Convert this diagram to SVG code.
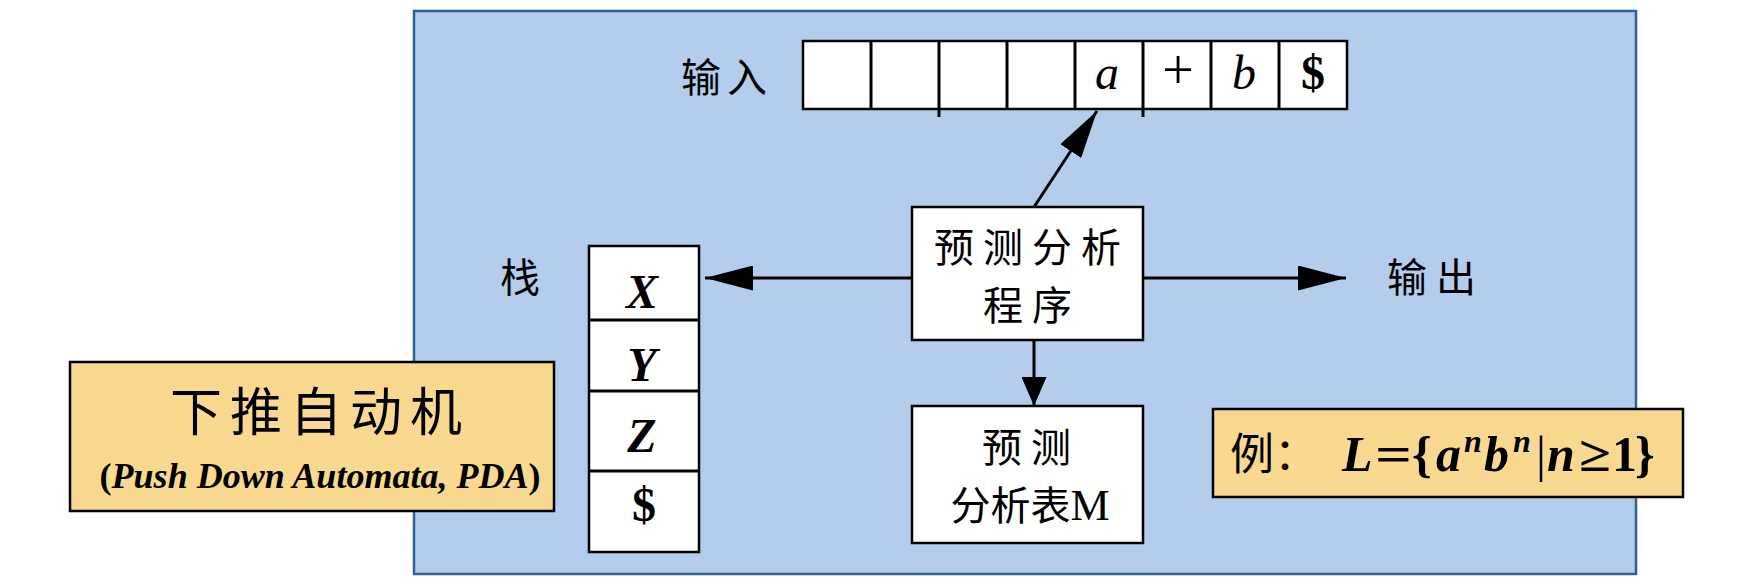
<svg xmlns="http://www.w3.org/2000/svg" width="1748" height="586" viewBox="0 0 1748 586">
<style>
.cjk{font-family:"Noto Sans CJK SC","Noto Sans CJK JP",sans-serif;fill:#000}
.ser{font-family:"Liberation Serif","Times New Roman",serif;fill:#000}
.box{fill:#fff;stroke:#000;stroke-width:2.5}
.note{fill:#f8d98f;stroke:#000;stroke-width:2.5}
.ln{stroke:#000;stroke-width:3;fill:none}
</style>
<defs>
<marker id="ahL" markerUnits="userSpaceOnUse" markerWidth="48" markerHeight="25" refX="48" refY="12.5" orient="auto">
<path d="M0,0 L48,12.5 L0,25 z" fill="#000"/>
</marker>
<marker id="ahS" markerUnits="userSpaceOnUse" markerWidth="29" markerHeight="25" refX="29" refY="12.5" orient="auto">
<path d="M0,0 L29,12.5 L0,25 z" fill="#000"/>
</marker>
</defs>
<rect width="1748" height="586" fill="#fff"/>
<g id="panel">
<rect x="414" y="11" width="1222" height="563" fill="#b4cdec" stroke="#2c6391" stroke-width="2.5"/>
</g>
<g id="input-label">
<text class="cjk" x="727" y="92" font-size="40" text-anchor="middle" letter-spacing="6">输入</text>
</g>
<g id="input-tape">
<rect class="box" x="803" y="41" width="544" height="68"/>
<g class="ln">
<line x1="871" y1="41" x2="871" y2="109"/>
<line x1="939" y1="41" x2="939" y2="117"/>
<line x1="1007" y1="41" x2="1007" y2="109"/>
<line x1="1075" y1="41" x2="1075" y2="109"/>
<line x1="1143" y1="41" x2="1143" y2="117"/>
<line x1="1211" y1="41" x2="1211" y2="109"/>
<line x1="1279" y1="41" x2="1279" y2="109"/>
</g>
<text class="ser" x="1107" y="89" font-size="48" font-style="italic" text-anchor="middle">a</text>
<text class="ser" x="1178" y="89" font-size="56" text-anchor="middle">+</text>
<text class="ser" x="1244" y="89" font-size="48" font-style="italic" text-anchor="middle">b</text>
<text class="ser" x="1313" y="89" font-size="48" font-weight="bold" text-anchor="middle">$</text>
</g>
<g id="stack-label">
<text class="cjk" x="520" y="292" font-size="40" text-anchor="middle">栈</text>
</g>
<g id="stack">
<rect class="box" x="589" y="246" width="110" height="306"/>
<g class="ln">
<line x1="589" y1="320" x2="699" y2="320"/>
<line x1="589" y1="391" x2="699" y2="391"/>
<line x1="589" y1="471" x2="699" y2="471"/>
</g>
<g class="ser" font-size="48" font-weight="bold" text-anchor="middle">
<text x="642" y="308" font-style="italic">X</text>
<text x="642" y="381" font-style="italic">Y</text>
<text x="642" y="452" font-style="italic">Z</text>
<text x="644" y="521">$</text>
</g>
</g>
<g id="program">
<rect class="box" x="912" y="207" width="231" height="133"/>
<text class="cjk" x="1032" y="262" font-size="40" text-anchor="middle" letter-spacing="9">预测分析</text>
<text class="cjk" x="1032" y="320" font-size="40" text-anchor="middle" letter-spacing="9">程序</text>
</g>
<g id="table">
<rect class="box" x="912" y="406" width="231" height="137"/>
<text class="cjk" x="1031" y="462" font-size="40" text-anchor="middle" letter-spacing="9">预测</text>
<text class="cjk" x="1030" y="520" font-size="40" text-anchor="middle">分析表<tspan class="ser" font-size="44">M</tspan></text>
</g>
<g id="output-label">
<text class="cjk" x="1436" y="292" font-size="40" text-anchor="middle" letter-spacing="9">输出</text>
</g>
<g id="connectors">
<line class="ln" x1="1034" y1="207" x2="1097" y2="111" marker-end="url(#ahL)"/>
<line class="ln" x1="912" y1="278" x2="705" y2="278" marker-end="url(#ahL)"/>
<line class="ln" x1="1143" y1="278" x2="1346" y2="278" marker-end="url(#ahL)"/>
<line class="ln" x1="1034" y1="340" x2="1034" y2="406" marker-end="url(#ahS)"/>
</g>
<g id="pda">
<rect class="note" x="70" y="362" width="484" height="149"/>
<text class="cjk" x="320" y="431" font-size="52" text-anchor="middle" letter-spacing="8">下推自动机</text>
<text class="ser" x="320" y="488" font-size="36" font-weight="bold" text-anchor="middle">(<tspan font-style="italic">Push Down Automata, PDA</tspan>)</text>
</g>
<g id="example">
<rect class="note" x="1213" y="409" width="470" height="88"/>
<text class="cjk" x="1230" y="470" font-size="44">例：</text>
<g class="ser" font-weight="bold" font-size="50">
<text x="1342" y="471" font-style="italic">L</text>
<text x="1375" y="471" textLength="37" lengthAdjust="spacingAndGlyphs">=</text>
<text x="1412" y="471">{</text>
<text x="1436" y="471" font-style="italic">a</text>
<text x="1464" y="452" font-style="italic" font-size="32">n</text>
<text x="1484" y="471" font-style="italic">b</text>
<text x="1513" y="452" font-style="italic" font-size="32">n</text>
<text x="1536" y="471" font-weight="normal">|</text>
<text x="1547" y="471" font-style="italic">n</text>
<text x="1579" y="471" textLength="32" lengthAdjust="spacingAndGlyphs">≥</text>
<text x="1612" y="471">1</text>
<text x="1635" y="471">}</text>
</g>
</g>
</svg>
